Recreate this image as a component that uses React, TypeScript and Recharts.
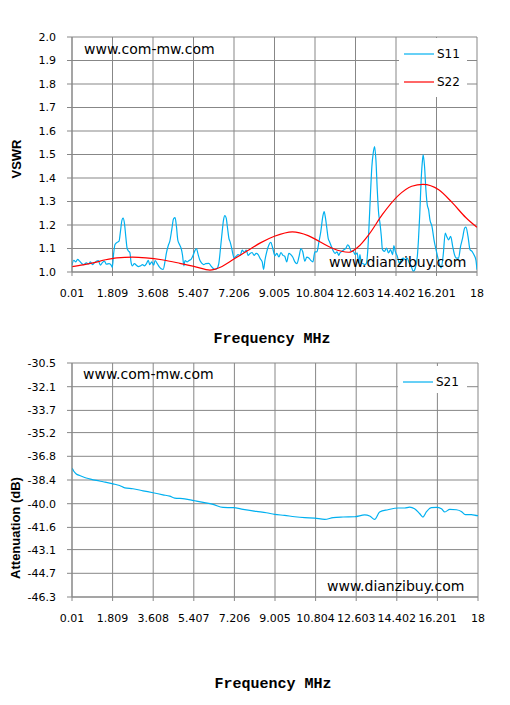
import { LineChart, Line, XAxis, YAxis, CartesianGrid, Legend } from "recharts"

// frequency ticks (MHz)
const xTicks = [0.01, 1.809, 3.608, 5.407, 7.206, 9.005, 10.804, 12.603, 14.402, 16.201, 18]
const vswrTicks = [1.0, 1.1, 1.2, 1.3, 1.4, 1.5, 1.6, 1.7, 1.8, 1.9, 2.0]
const attTicks = [-46.3, -44.7, -43.1, -41.6, -40.0, -38.4, -36.8, -35.2, -33.7, -32.1, -30.5]

// S11
const s11Freq = [
  0.01, 0.09, 0.18, 0.26, 0.35, 0.44, 0.53, 0.65, 0.74, 0.83, 0.92, 1.0, 1.09, 1.18, 1.27, 1.36, 1.45, 1.54, 1.66, 1.75,
  1.8, 1.86, 1.92, 2.01, 2.1, 2.16, 2.23, 2.28, 2.34, 2.4, 2.46, 2.52, 2.58, 2.63, 2.69, 2.78, 2.87, 2.96, 3.05, 3.14,
  3.23, 3.32, 3.4, 3.46, 3.55, 3.64, 3.7, 3.79, 3.88, 3.97, 4.06, 4.15, 4.2, 4.29, 4.35, 4.44, 4.52, 4.59, 4.65, 4.71,
  4.8, 4.86, 4.92, 4.98, 5.03, 5.12, 5.21, 5.3, 5.39, 5.48, 5.54, 5.6, 5.69, 5.78, 5.86, 5.95, 6.09, 6.18, 6.26, 6.35,
  6.44, 6.53, 6.62, 6.68, 6.74, 6.8, 6.86, 6.92, 6.98, 7.03, 7.09, 7.15, 7.21, 7.3, 7.39, 7.48, 7.57, 7.66, 7.75, 7.83,
  7.92, 8.01, 8.1, 8.19, 8.28, 8.37, 8.46, 8.52, 8.58, 8.66, 8.75, 8.84, 8.93, 9.02, 9.11, 9.2, 9.29, 9.38, 9.46, 9.55,
  9.64, 9.73, 9.82, 9.91, 10.0, 10.09, 10.18, 10.26, 10.35, 10.44, 10.53, 10.62, 10.71, 10.8, 10.89, 10.98, 11.06, 11.15,
  11.21, 11.27, 11.33, 11.39, 11.45, 11.51, 11.6, 11.69, 11.78, 11.86, 11.91, 12.0, 12.09, 12.18, 12.26, 12.32, 12.41,
  12.5, 12.59, 12.68, 12.74, 12.8, 12.86, 12.95, 13.03, 13.09, 13.15, 13.21, 13.27, 13.33, 13.39, 13.45, 13.51, 13.57,
  13.63, 13.69, 13.75, 13.8, 13.89, 13.98, 14.07, 14.16, 14.25, 14.31, 14.37, 14.46, 14.55, 14.63, 14.72, 14.81, 14.9,
  14.99, 15.08, 15.17, 15.26, 15.35, 15.4, 15.46, 15.52, 15.58, 15.61, 15.67, 15.73, 15.79, 15.85, 15.91, 16.0, 16.09,
  16.18, 16.23, 16.32, 16.41, 16.5, 16.59, 16.65, 16.74, 16.83, 16.92, 17.0, 17.09, 17.18, 17.27, 17.36, 17.45, 17.51,
  17.6, 17.69, 17.78, 17.86, 17.95, 18.0,
]
const s11Vswr = [
  1.029, 1.05, 1.043, 1.054, 1.046, 1.036, 1.031, 1.039, 1.034, 1.043, 1.031, 1.039, 1.046, 1.049, 1.029, 1.04, 1.046, 1.033, 1.036, 1.029,
  1.02, 1.079, 1.117, 1.126, 1.131, 1.171, 1.221, 1.229, 1.207, 1.15, 1.1, 1.089, 1.083, 1.043, 1.026, 1.036, 1.029, 1.023, 1.026, 1.031,
  1.026, 1.036, 1.05, 1.031, 1.043, 1.029, 1.049, 1.037, 1.023, 1.014, 1.011, 1.05, 1.079, 1.114, 1.129, 1.179, 1.226, 1.231, 1.193, 1.136,
  1.114, 1.1, 1.071, 1.026, 1.049, 1.043, 1.049, 1.054, 1.071, 1.093, 1.1, 1.079, 1.05, 1.037, 1.031, 1.036, 1.037, 1.026, 1.017, 1.011,
  1.014, 1.036, 1.114, 1.171, 1.221, 1.24, 1.229, 1.186, 1.143, 1.129, 1.107, 1.079, 1.06, 1.067, 1.074, 1.071, 1.093, 1.083, 1.093, 1.071,
  1.079, 1.083, 1.071, 1.079, 1.074, 1.057, 1.043, 1.011, 1.05, 1.086, 1.114, 1.126, 1.1, 1.069, 1.079, 1.064, 1.083, 1.071, 1.067, 1.043,
  1.079, 1.074, 1.063, 1.043, 1.036, 1.064, 1.1, 1.086, 1.046, 1.063, 1.06, 1.049, 1.043, 1.086, 1.086, 1.129, 1.171, 1.236,
  1.257, 1.229, 1.186, 1.143, 1.129, 1.114, 1.093, 1.079, 1.086, 1.071, 1.081, 1.088, 1.095, 1.102, 1.116, 1.109, 1.088,
  1.088, 1.074, 1.081, 1.038, 1.074, 1.038, 1.035, 1.031, 1.038, 1.095, 1.208, 1.336, 1.449, 1.506, 1.534, 1.477, 1.35,
  1.251, 1.208, 1.152, 1.095, 1.088, 1.102, 1.081, 1.095, 1.074, 1.112, 1.088, 1.067, 1.038, 1.052, 1.059, 1.052, 1.059,
  1.038, 1.024, 1.003, 1.017, 1.067, 1.137, 1.251, 1.392, 1.477, 1.499, 1.449, 1.35, 1.286, 1.265, 1.222, 1.194, 1.137,
  1.095, 1.074, 1.038, 1.017, 1.074, 1.166, 1.152, 1.137, 1.152, 1.109, 1.074, 1.059, 1.059, 1.109, 1.144, 1.187, 1.191,
  1.152, 1.095, 1.088, 1.074, 1.052, 1.01,
]

// S22
const s22Freq = [0.01, 0.5, 1.0, 1.5, 2.0, 2.7, 3.3, 4.0, 4.8, 5.5, 6.14, 6.6, 7.2, 7.8, 8.4, 9.0, 9.8, 10.5, 11.0, 11.6, 12.3, 12.7, 13.2, 13.8, 14.5, 15.1, 15.6, 16.3, 16.9, 17.5, 18.0]
const s22Vswr = [1.023, 1.03, 1.04, 1.052, 1.06, 1.063, 1.06, 1.052, 1.037, 1.022, 1.008, 1.02, 1.055, 1.09, 1.125, 1.152, 1.171, 1.155, 1.13, 1.1, 1.084, 1.105, 1.16, 1.245, 1.325, 1.365, 1.373, 1.35, 1.295, 1.232, 1.19]

// S21
const s21Freq = [
  0.01, 0.09, 0.2, 0.35, 0.57, 0.79, 1.09, 1.39, 1.83, 2.12, 2.35, 2.71, 3.16, 3.6, 4.04, 4.34, 4.56, 5.0, 5.45, 5.82,
  6.26, 6.7, 7.15, 7.59, 8.18, 8.62, 8.99, 9.43, 9.88, 10.32, 10.76, 11.21, 11.58, 12.02, 12.54, 12.98, 13.2, 13.42,
  13.64, 14.01, 14.46, 14.75, 14.97, 15.19, 15.42, 15.56, 15.71, 15.93, 16.16, 16.38, 16.53, 16.75, 17.04, 17.26, 17.44,
  17.71, 17.97, 18.0,
]
const s21Att = [
  -37.6, -37.81, -37.99, -38.1, -38.23, -38.32, -38.43, -38.52, -38.66, -38.77, -38.93, -38.99, -39.13, -39.26, -39.4, -39.49, -39.62, -39.67, -39.8, -39.91,
  -40.05, -40.25, -40.27, -40.38, -40.52, -40.61, -40.72, -40.79, -40.88, -40.94, -40.97, -41.06, -40.94, -40.9, -40.88, -40.76, -40.83, -41.06,
  -40.56, -40.41, -40.29, -40.29, -40.23, -40.34, -40.68, -40.9, -40.56, -40.27, -40.25, -40.34, -40.56, -40.38, -40.41, -40.52, -40.74,
  -40.74, -40.81, -40.81,
]

const s11Data = s11Freq.map((f, i) => ({ f, v: s11Vswr[i] }))
const s22Data = s22Freq.map((f, i) => ({ f, v: s22Vswr[i] }))
const s21Data = s21Freq.map((f, i) => ({ f, v: s21Att[i] }))

const GRID = "#878787"
const BLUE = "#00B0F0"
const RED = "#FF0000"
const tickStyle = { fontSize: 11, fill: "#000", fontFamily: "DejaVu Sans" }

function LegendBox({ payload }: any) {
  return (
    <div style={{ position: "relative", width: "100%", height: "100%", background: "#fff" }}>
      {(payload || []).map((p: any, i: number) => (
        <div key={p.value} style={{ position: "absolute", left: 0, top: 16 + i * 28 - 8, height: 16, width: "100%" }}>
          <svg width={36} height={16} style={{ position: "absolute", left: 0, top: 0 }}>
            <line x1={5} x2={35} y1={8} y2={8} stroke={p.color} strokeWidth={1.2} />
          </svg>
          <span style={{ position: "absolute", left: 38, top: 0, lineHeight: "16px", fontSize: 12, fontFamily: "DejaVu Sans", color: "#000" }}>
            {p.value}
          </span>
        </div>
      ))}
    </div>
  )
}

function Note({ text, left, top }: { text: string; left: number; top: number }) {
  return (
    <div style={{ position: "absolute", left, top, fontSize: 14, lineHeight: "16px", fontFamily: "DejaVu Sans", whiteSpace: "nowrap" }}>
      {text}
    </div>
  )
}

function AxisTitle({ text, x, y, rotate }: { text: string; x: number; y: number; rotate?: boolean }) {
  const style: any = rotate
    ? { fontFamily: "Liberation Sans", fontWeight: "bold", fontSize: 13 }
    : { fontFamily: "Liberation Mono", fontWeight: "bold", fontSize: 15 }
  return (
    <div
      style={{
        position: "absolute",
        left: x,
        top: y,
        transform: `translate(-50%, -50%)${rotate ? " rotate(-90deg)" : ""}`,
        whiteSpace: "nowrap",
        lineHeight: "16px",
        ...style,
      }}
    >
      {text}
    </div>
  )
}

export default function App() {
  return (
    <div style={{ position: "absolute", left: 0, top: 0, width: 510, height: 705, background: "#fff" }}>
      {/* VSWR chart */}
      <div style={{ position: "absolute", left: 0, top: 0 }}>
        <LineChart width={510} height={310} margin={{ top: 37, right: 33, left: 0, bottom: 8 }}>
          <CartesianGrid stroke={GRID} strokeWidth={1} />
          <XAxis
            dataKey="f"
            type="number"
            domain={[0.01, 18]}
            ticks={xTicks}
            interval={0}
            allowDataOverflow
            tick={tickStyle}
            tickSize={4}
            tickMargin={13}
            height={30}
            stroke={GRID}
            tickFormatter={(v: number) => String(v)}
          />
          <YAxis
            type="number"
            domain={[1, 2]}
            ticks={vswrTicks}
            interval={0}
            allowDataOverflow
            tick={tickStyle}
            tickSize={5}
            tickMargin={11}
            width={72}
            stroke={GRID}
            tickFormatter={(v: number) => v.toFixed(1)}
          />
          <Legend
            layout="vertical"
            align="center"
            verticalAlign="middle"
            wrapperStyle={{ left: 399, top: 38, width: 68, height: 59 }}
            content={(props: any) => <LegendBox {...props} />}
          />
          <Line data={s11Data} dataKey="v" name="S11" type="monotone" stroke={BLUE} strokeWidth={1.2} dot={false} isAnimationActive={false} />
          <Line data={s22Data} dataKey="v" name="S22" type="monotone" stroke={RED} strokeWidth={1.2} dot={false} isAnimationActive={false} />
        </LineChart>
      </div>
      <Note text="www.com-mw.com" left={84} top={41} />
      <Note text="www.dianzibuy.com" left={329} top={254} />
      <AxisTitle text="VSWR" x={16.5} y={158.5} rotate />
      <AxisTitle text="Frequency MHz" x={272} y={340} />

      {/* attenuation chart */}
      <div style={{ position: "absolute", left: 0, top: 330 }}>
        <LineChart width={510} height={310} margin={{ top: 33, right: 32, left: 0, bottom: 13 }}>
          <CartesianGrid stroke={GRID} strokeWidth={1} />
          <XAxis
            dataKey="f"
            type="number"
            domain={[0.01, 18]}
            ticks={xTicks}
            interval={0}
            allowDataOverflow
            tick={tickStyle}
            tickSize={4}
            tickMargin={13}
            height={30}
            stroke={GRID}
            tickFormatter={(v: number) => String(v)}
          />
          <YAxis
            type="number"
            domain={[-46.3, -30.5]}
            ticks={attTicks}
            interval={0}
            allowDataOverflow
            tick={tickStyle}
            tickSize={5}
            tickMargin={11}
            width={72}
            stroke={GRID}
            tickFormatter={(v: number) => v.toFixed(1)}
          />
          <Legend
            layout="vertical"
            align="center"
            verticalAlign="middle"
            wrapperStyle={{ left: 398, top: 36, width: 69, height: 27 }}
            content={(props: any) => <LegendBox {...props} />}
          />
          <Line data={s21Data} dataKey="v" name="S21" type="monotone" stroke={BLUE} strokeWidth={1.2} dot={false} isAnimationActive={false} />
        </LineChart>
      </div>
      <Note text="www.com-mw.com" left={83} top={366} />
      <Note text="www.dianzibuy.com" left={327} top={578} />
      <AxisTitle text="Attenuation (dB)" x={16} y={528} rotate />
      <AxisTitle text="Frequency MHz" x={273} y={685} />
    </div>
  )
}
